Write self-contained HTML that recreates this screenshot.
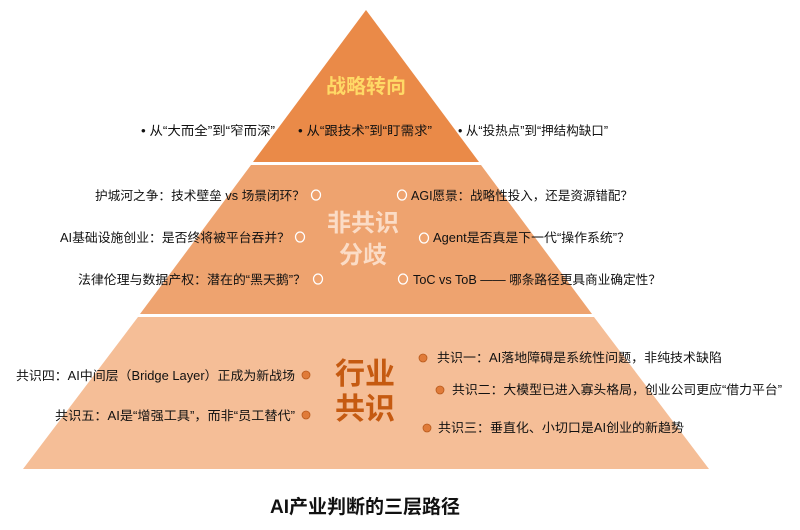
<!DOCTYPE html>
<html><head><meta charset="utf-8"><style>
html,body{margin:0;padding:0;background:#fff;}
svg{display:block;}
text{font-family:"Liberation Sans","Noto Sans CJK SC",sans-serif;}
.t{font-size:12.5px;fill:#111;}
</style></head><body>
<svg width="800" height="530" viewBox="0 0 800 530" xmlns="http://www.w3.org/2000/svg">
<polygon points="366,10 479,162 253,162" fill="#EA8A48"/>
<polygon points="251,165 481,165 592,314 140,314" fill="#EEA36F"/>
<polygon points="138,317 594,317 709,469 23,469" fill="#F5BE97"/>

<text x="366" y="93" text-anchor="middle" font-size="20" font-weight="bold" fill="#FFD966">战略转向</text>
<g class="t">
<text x="141" y="135" textLength="134" lengthAdjust="spacingAndGlyphs">• 从“大而全”到“窄而深”</text>
<text x="298" y="135" textLength="134" lengthAdjust="spacingAndGlyphs">• 从“跟技术”到“盯需求”</text>
<text x="458" y="135" textLength="150" lengthAdjust="spacingAndGlyphs">• 从“投热点”到“押结构缺口”</text>
</g>

<text x="363" y="231" text-anchor="middle" font-size="24" font-weight="bold" fill="#FBDCC6">非共识</text>
<text x="363" y="263" text-anchor="middle" font-size="24" font-weight="bold" fill="#FBDCC6">分歧</text>
<g class="t">
<text x="95" y="200" textLength="210" lengthAdjust="spacingAndGlyphs">护城河之争：技术壁垒 vs 场景闭环？</text>
<text x="60" y="242" textLength="230" lengthAdjust="spacingAndGlyphs">AI基础设施创业：是否终将被平台吞并？</text>
<text x="78" y="284" textLength="228" lengthAdjust="spacingAndGlyphs">法律伦理与数据产权：潜在的“黑天鹅”？</text>
<text x="411" y="200" textLength="222" lengthAdjust="spacingAndGlyphs">AGI愿景：战略性投入，还是资源错配？</text>
<text x="433" y="242" textLength="197" lengthAdjust="spacingAndGlyphs">Agent是否真是下一代“操作系统”？</text>
<text x="413" y="284" textLength="248" lengthAdjust="spacingAndGlyphs">ToC vs ToB —— 哪条路径更具商业确定性？</text>
</g>
<g fill="none" stroke="#fff" stroke-width="1.3">
<ellipse cx="316" cy="195" rx="4.5" ry="5"/>
<ellipse cx="300" cy="237" rx="4.5" ry="5"/>
<ellipse cx="318" cy="279" rx="4.5" ry="5"/>
<ellipse cx="402" cy="195" rx="4.5" ry="5"/>
<ellipse cx="424" cy="238" rx="4.5" ry="5"/>
<ellipse cx="403" cy="279" rx="4.5" ry="5"/>
</g>

<text x="365" y="384" text-anchor="middle" font-size="30" font-weight="bold" fill="#C55A11">行业</text>
<text x="365" y="419" text-anchor="middle" font-size="30" font-weight="bold" fill="#C55A11">共识</text>
<g class="t">
<text x="16" y="380" textLength="279" lengthAdjust="spacingAndGlyphs">共识四：AI中间层（Bridge Layer）正成为新战场</text>
<text x="55" y="420" textLength="240" lengthAdjust="spacingAndGlyphs">共识五：AI是“增强工具”，而非“员工替代”</text>
<text x="437" y="362" textLength="285" lengthAdjust="spacingAndGlyphs">共识一：AI落地障碍是系统性问题，非纯技术缺陷</text>
<text x="452" y="394" textLength="330" lengthAdjust="spacingAndGlyphs">共识二：大模型已进入寡头格局，创业公司更应“借力平台”</text>
<text x="438" y="432" textLength="246" lengthAdjust="spacingAndGlyphs">共识三：垂直化、小切口是AI创业的新趋势</text>
</g>
<g fill="#E07B39" stroke="#B85A1C" stroke-width="0.8">
<circle cx="306" cy="375" r="4"/>
<circle cx="306" cy="415" r="4"/>
<circle cx="423" cy="358" r="4"/>
<circle cx="440" cy="390" r="4"/>
<circle cx="427" cy="428" r="4"/>
</g>

<text x="365" y="513" text-anchor="middle" font-size="19" font-weight="bold" fill="#111">AI产业判断的三层路径</text>
</svg>
</body></html>
